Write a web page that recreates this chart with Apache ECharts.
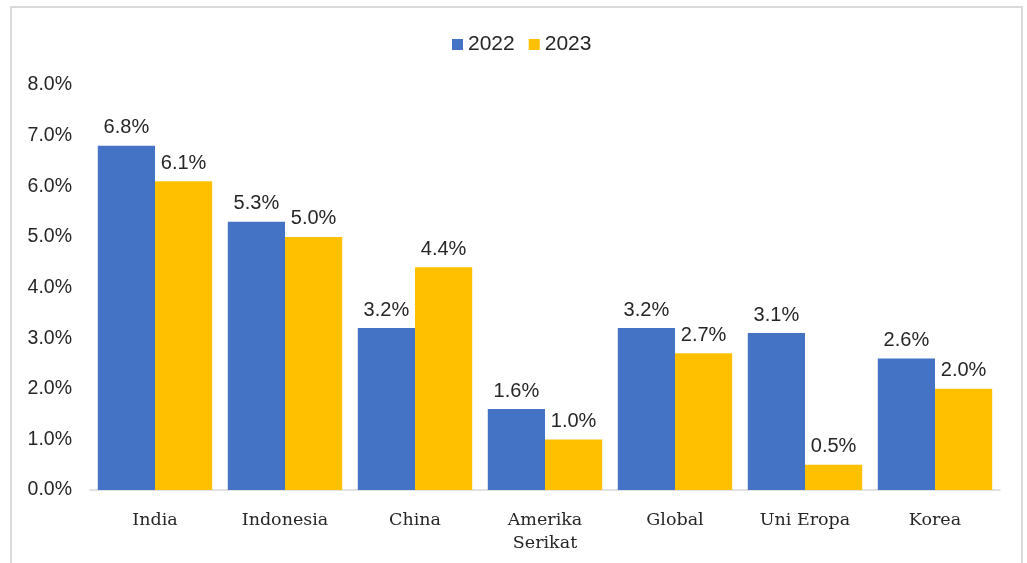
<!DOCTYPE html>
<html><head><meta charset="utf-8">
<script src="https://cdn.jsdelivr.net/npm/echarts@6/dist/echarts.min.js"></script>
<style>html,body{margin:0;padding:0;background:#fff}#c{width:1027px;height:563px}</style>
</head><body><div id="c"></div>
<script>
const categories = ['India', 'Indonesia', 'China', 'Amerika\nSerikat', 'Global', 'Uni Eropa', 'Korea'];
const seriesNames = ['2022', '2023'];
const values2022 = [6.8, 5.3, 3.2, 1.6, 3.2, 3.1, 2.6];
const values2023 = [6.1, 5.0, 4.4, 1.0, 2.7, 0.5, 2.0];
const yTicks = { min: 0, max: 8, interval: 1 };

const chart = echarts.init(document.getElementById('c'));
const sans = "'Liberation Sans', Arial, sans-serif";
const serif = "'DejaVu Serif', 'Liberation Serif', serif";
const lbl = { show: true, position: 'top', distance: 8, fontFamily: sans, fontSize: 20, color: '#262626',
  formatter: p => p.value.toFixed(1) + '%' };
chart.setOption({
  animation: false,
  graphic: [{ type: 'rect', shape: { x: 11, y: 7, width: 1011, height: 600 },
    style: { fill: 'none', stroke: '#d9d9d9', lineWidth: 2 }, silent: true }],
  legend: { top: 29, left: 447, itemWidth: 11, itemHeight: 11, itemGap: 14,
    textStyle: { fontFamily: sans, fontSize: 21, color: '#262626' }, icon: 'rect', data: seriesNames },
  grid: { left: 90, right: 27, top: 85, bottom: 73 },
  xAxis: { type: 'category', data: categories,
    axisLine: { lineStyle: { color: '#d9d9d9', width: 1.5 } }, axisTick: { show: false },
    axisLabel: { fontFamily: serif, fontSize: 17.5, color: '#262626', margin: 19, lineHeight: 23 } },
  yAxis: { type: 'value', min: yTicks.min, max: yTicks.max, interval: yTicks.interval,
    splitLine: { show: false }, axisLine: { show: false }, axisTick: { show: false },
    axisLabel: { fontFamily: sans, fontSize: 19.5, color: '#262626', margin: 18, formatter: v => v.toFixed(1) + '%' } },
  series: [
    { name: seriesNames[0], type: 'bar', data: values2022, barGap: '0%', barCategoryGap: '12%',
      itemStyle: { color: '#4472C4' }, label: lbl },
    { name: seriesNames[1], type: 'bar', data: values2023,
      itemStyle: { color: '#FFC000' }, label: lbl }
  ]
});
</script></body></html>
